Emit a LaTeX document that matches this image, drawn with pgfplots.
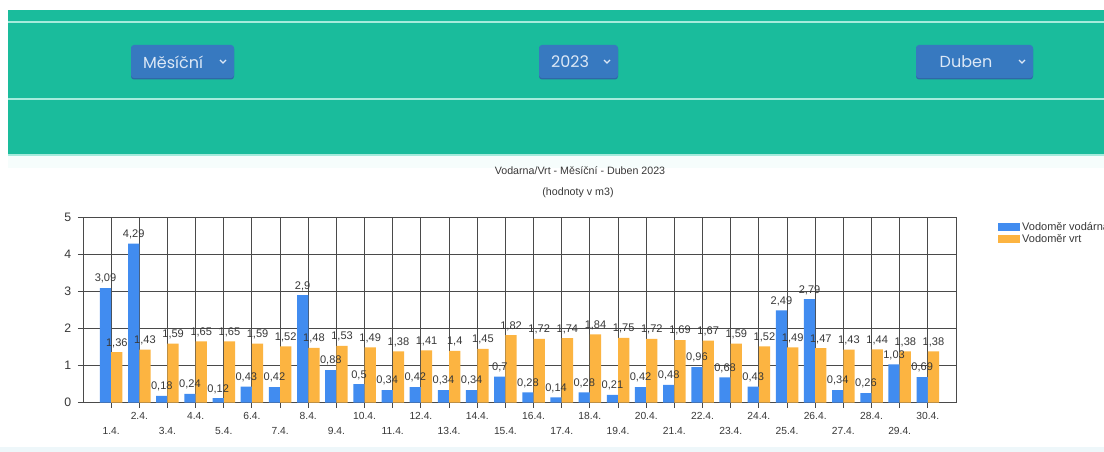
\documentclass[border=0pt]{standalone}
\usepackage{fontspec}
\setmainfont{Liberation Sans}
\newfontfamily\poppins{Poppins}
\usepackage{pgfplots}
\usepackage{pgfplotstable}
\pgfplotsset{compat=1.18}
\definecolor{teal1}{HTML}{1ABC9C}
\definecolor{tealline}{HTML}{A6EBDC}
\definecolor{pale}{HTML}{F6FDFC}
\definecolor{palebot}{HTML}{EEF7FA}
\definecolor{selbg}{HTML}{3779C0}
\definecolor{selsh}{HTML}{2F68A6}
\definecolor{seltxt}{HTML}{DCE8F6}
\definecolor{c1}{HTML}{418CF0}
\definecolor{c2}{HTML}{FCB441}
\definecolor{txt}{HTML}{383838}
\definecolor{gridc}{HTML}{4A4A4A}

\pgfplotstableread{
x y
1 3.09
2 4.29
3 0.18
4 0.24
5 0.12
6 0.43
7 0.42
8 2.9
9 0.88
10 0.5
11 0.34
12 0.42
13 0.34
14 0.34
15 0.7
16 0.28
17 0.14
18 0.28
19 0.21
20 0.42
21 0.48
22 0.96
23 0.68
24 0.43
25 2.49
26 2.79
27 0.34
28 0.26
29 1.03
30 0.69
}\vodarna

\pgfplotstableread{
x y
1 1.36
2 1.43
3 1.59
4 1.65
5 1.65
6 1.59
7 1.52
8 1.48
9 1.53
10 1.49
11 1.38
12 1.41
13 1.4
14 1.45
15 1.82
16 1.72
17 1.74
18 1.84
19 1.75
20 1.72
21 1.69
22 1.67
23 1.59
24 1.52
25 1.49
26 1.47
27 1.43
28 1.44
29 1.38
30 1.38
}\vrt

\begin{document}
\begin{tikzpicture}[x=0.75pt,y=-0.75pt]
\useasboundingbox (0,0) rectangle (1104,452);
\begin{scope}
\clip (0,0) rectangle (1104,452);
\fill[white] (0,0) rectangle (1104,452);
% header
\fill[teal1] (8,10) rectangle (1104,155);
\fill[tealline] (8,154) rectangle (1104,156);
\fill[pale] (8,156) rectangle (1104,168);
\fill[palebot] (0,447) rectangle (1104,452);
\draw[tealline, line width=0.9pt] (8,22) -- (1104,22);
\draw[tealline, line width=0.9pt] (8,99) -- (1104,99);
% selects
\fill[selsh, rounded corners=2.25pt] (131,46) rectangle (234,79.5);
\fill[selbg, rounded corners=2.25pt] (131,45) rectangle (234,78);
\node[text=seltxt, font=\poppins\fontsize{12}{14}\selectfont, inner sep=0pt] at (173,62) {Měsíční};
\draw[seltxt, line width=0.9pt] (220,60) -- (223,63) -- (226,60);
\fill[selsh, rounded corners=2.25pt] (539,46) rectangle (618,79.5);
\fill[selbg, rounded corners=2.25pt] (539,45) rectangle (618,78);
\node[text=seltxt, font=\poppins\fontsize{12}{14}\selectfont, inner sep=0pt] at (570,62) {2023};
\draw[seltxt, line width=0.9pt] (604,60) -- (607,63) -- (610,60);
\fill[selsh, rounded corners=2.25pt] (916,46) rectangle (1033,79.5);
\fill[selbg, rounded corners=2.25pt] (916,45) rectangle (1033,78);
\node[text=seltxt, font=\poppins\fontsize{12}{14}\selectfont, inner sep=0pt] at (966,62) {Duben};
\draw[seltxt, line width=0.9pt] (1019,60) -- (1022,63) -- (1025,60);
% titles
\node[text=txt, font=\fontsize{8}{9}\selectfont] at (580,171) {Vodarna/Vrt - Měsíční - Duben 2023};
\node[text=txt, font=\fontsize{8}{9}\selectfont] at (578,193) {(hodnoty v m3)};

\begin{axis}[
  at={(62.25pt,-302pt)}, anchor=south west,
  width=654.75pt, height=139.05pt, scale only axis,
  xmin=0, xmax=31, ymin=0, ymax=5, enlargelimits=false,
  ybar=0pt, bar width=0.4,
  ytick={0,1,2,3,4,5},
  xtick={2,4,...,30},
  xticklabels={2.4.,4.4.,6.4.,8.4.,10.4.,12.4.,14.4.,16.4.,18.4.,20.4.,22.4.,24.4.,26.4.,28.4.,30.4.},
  extra x ticks={1,3,...,29},
  extra x tick labels={1.4.,3.4.,5.4.,7.4.,9.4.,11.4.,13.4.,15.4.,17.4.,19.4.,21.4.,23.4.,25.4.,27.4.,29.4.},
  extra x tick style={grid=major, xticklabel style={yshift=-11.25pt}},
  grid=major,
  major grid style={gridc, line width=0.75pt},
  axis line style={gridc, line width=0.75pt},
  tick style={gridc, line width=0.75pt},
  tick align=outside, tick pos=left,
  major tick length=3.75pt,
  tick label style={text=txt},
  yticklabel style={font=\fontsize{9.2}{10}\selectfont, xshift=-1.5pt},
  xticklabel style={font=\fontsize{7.7}{9}\selectfont},
  nodes near coords,
  nodes near coords style={font=\fontsize{8.3}{9}\selectfont, text=txt},
  /pgf/number format/use comma,
  /pgf/number format/assume math mode=true,
  clip=false,
  legend style={at={(1.048,0.985)}, anchor=north west, draw=none, fill=none,
    font=\fontsize{8.25}{9}\selectfont, text=txt, inner sep=0pt,
    row sep=-1.5pt, nodes={inner sep=1.5pt}},
  legend cell align=left,
]
\addplot[draw=none, fill=c1, legend image code/.code={\fill[c1] (0pt,-3pt) rectangle (16.5pt,3pt);}] table[x=x,y=y] {\vodarna};
\addlegendentry{Vodoměr vodárna}
\addplot[draw=none, fill=c2, legend image code/.code={\fill[c2] (0pt,-3pt) rectangle (16.5pt,3pt);}] table[x=x,y=y] {\vrt};
\addlegendentry{Vodoměr vrt}
\end{axis}
\end{scope}
\end{tikzpicture}
\end{document}
